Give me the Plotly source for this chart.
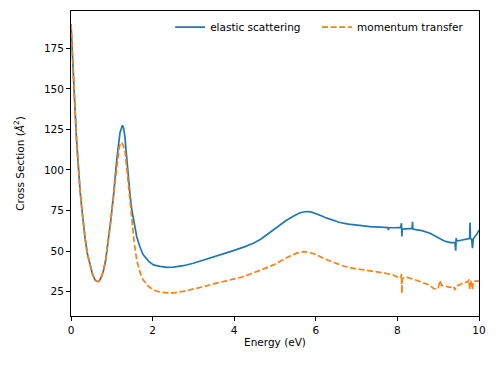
import plotly.graph_objects as go

# Elastic scattering cross section (blue, solid)
elastic_E = [0.0, 0.03, 0.056, 0.1, 0.14, 0.18, 0.22, 0.26, 0.30, 0.34, 0.40, 0.47, 0.53, 0.59, 0.63, 0.67, 0.71,
             0.75, 0.79, 0.85, 0.91, 0.97, 1.04, 1.12, 1.2, 1.23, 1.26, 1.29, 1.32, 1.36, 1.40, 1.45, 1.49, 1.55,
             1.61, 1.69, 1.77, 1.9, 2.02, 2.18, 2.35, 2.51, 2.75, 3.0, 3.25, 3.49, 3.75, 3.98, 4.25, 4.47, 4.65,
             4.8, 4.96, 5.12, 5.28, 5.45, 5.6, 5.69, 5.78, 5.9, 6.02, 6.15, 6.27, 6.43, 6.59, 6.8, 7.08, 7.33,
             7.57, 7.77, 7.78, 7.79, 7.95, 8.08, 8.10, 8.11, 8.12, 8.14, 8.2, 8.3, 8.36, 8.37, 8.38, 8.45, 8.6,
             8.8, 9.0, 9.15, 9.3, 9.41, 9.43, 9.44, 9.45, 9.5, 9.62, 9.72, 9.77, 9.78, 9.79, 9.82, 9.84, 9.86,
             9.9, 9.95, 10.0]
elastic_v = [190.0, 172.0, 162.0, 137.0, 117.0, 100.0, 88.0, 77.5, 67.5, 59.0, 48.5, 40.4, 35.5, 32.2, 31.4, 31.2,
             32.3, 34.4, 37.4, 44.5, 54.9, 68.0, 83.7, 106.0, 122.8, 126.0, 127.5, 125.8, 120.7, 109.0, 96.0,
             84.0, 75.5, 66.0, 59.0, 52.5, 47.7, 43.8, 41.5, 40.6, 40.0, 40.1, 41.0, 42.5, 44.4, 46.6, 48.4,
             50.3, 52.6, 54.9, 57.3, 60.0, 63.0, 66.2, 69.0, 71.5, 73.5, 74.1, 74.4, 74.0, 73.0, 71.6, 70.3,
             68.8, 67.6, 66.6, 65.6, 65.1, 64.8, 64.5, 63.0, 64.4, 64.4, 64.6, 67.2, 59.0, 63.5, 63.6, 63.8, 63.9,
             64.0, 68.0, 63.6, 63.2, 62.6, 61.0, 58.3, 56.2, 55.2, 55.4, 50.3, 58.0, 56.3, 56.4, 56.8, 57.5,
             57.8, 67.6, 57.6, 57.4, 51.8, 57.5, 59.0, 60.5, 63.0]

# Momentum transfer cross section (orange, dashed)
momentum_E = [0.0, 0.03, 0.056, 0.1, 0.14, 0.18, 0.22, 0.26, 0.30, 0.34, 0.40, 0.47, 0.53, 0.59, 0.63, 0.67, 0.71,
              0.75, 0.79, 0.85, 0.91, 0.97, 1.04, 1.12, 1.18, 1.21, 1.24, 1.27, 1.32, 1.36, 1.40, 1.45, 1.49, 1.55,
              1.61, 1.69, 1.77, 1.9, 2.02, 2.18, 2.35, 2.51, 2.75, 3.0, 3.25, 3.49, 3.75, 3.98, 4.25, 4.47, 4.7,
              4.96, 5.15, 5.37, 5.55, 5.69, 5.85, 6.02, 6.2, 6.43, 6.65, 6.92, 7.2, 7.49, 7.7, 7.9, 8.06, 8.09,
              8.10, 8.11, 8.12, 8.15, 8.23, 8.4, 8.64, 8.8, 8.88, 8.96, 9.0, 9.04, 9.08, 9.17, 9.29, 9.38, 9.41,
              9.44, 9.5, 9.62, 9.72, 9.76, 9.77, 9.78, 9.8, 9.84, 9.86, 9.9, 10.0]
momentum_v = [190.0, 172.0, 162.0, 137.0, 117.0, 100.0, 88.0, 77.5, 67.5, 59.0, 48.5, 40.4, 35.5, 32.2, 31.4,
              31.2, 32.3, 34.4, 37.4, 44.5, 54.9, 68.0, 83.7, 103.0, 113.5, 116.3, 117.0, 115.8, 112.0, 103.0,
              92.0, 78.5, 67.0, 55.0, 44.6, 37.0, 32.2, 28.2, 26.0, 24.8, 24.3, 24.2, 25.2, 26.5, 28.1, 29.8,
              31.2, 32.7, 34.4, 36.4, 38.8, 41.5, 44.2, 47.0, 48.9, 49.7, 49.2, 47.7, 45.4, 42.9, 41.0, 39.4,
              38.3, 37.4, 36.4, 35.3, 33.3, 34.0, 35.9, 24.0, 33.0, 33.5, 33.9, 32.6, 30.6, 29.0, 27.1, 26.5,
              27.0, 31.8, 29.0, 28.5, 27.7, 28.3, 26.0, 28.5, 29.0, 30.6, 31.0, 32.5, 26.0, 31.5, 31.5, 26.5,
              31.3, 31.5, 31.5]

x_ticks = [0, 2, 4, 6, 8, 10]
y_ticks = [25, 50, 75, 100, 125, 150, 175]

font = dict(family="DejaVu Sans, sans-serif", size=10.5, color="black")

fig = go.Figure()
fig.add_trace(go.Scatter(x=elastic_E, y=elastic_v, mode="lines", name="elastic scattering",
                         line=dict(color="#1f77b4", width=1.7), legend="legend"))
fig.add_trace(go.Scatter(x=momentum_E, y=momentum_v, mode="lines", name="momentum transfer",
                         line=dict(color="#ff7f0e", width=1.7, dash="6px,2.6px"), legend="legend2"))

axis_common = dict(showline=True, mirror=True, linecolor="black", linewidth=0.9, ticks="outside",
                   ticklen=4, tickwidth=0.9, tickcolor="black", showgrid=False, zeroline=False,
                   tickfont=font)
fig.update_xaxes(range=[0, 10], tickvals=x_ticks, title=dict(text="Energy (eV)", font=font, standoff=4),
                 **axis_common)
fig.update_yaxes(range=[10, 198], tickvals=y_ticks,
                 title=dict(text="Cross Section (<i>Å</i><sup>2</sup>)", font=font, standoff=17),
                 **axis_common)

legend_common = dict(orientation="h", yanchor="top", y=0.995, xanchor="left",
                     bgcolor="rgba(0,0,0,0)", font=font, itemwidth=30)
fig.update_layout(
    template="none",
    width=498, height=374,
    margin=dict(l=71, r=19, t=11, b=58, pad=0),
    paper_bgcolor="white", plot_bgcolor="white",
    font=font,
    showlegend=True,
    legend=dict(x=0.243, **legend_common),
    legend2=dict(x=0.603, **legend_common),
)

fig.write_html("out.html", config={"displayModeBar": False})

with open("out.html", "r", encoding="utf-8") as f:
    html = f.read()
html = html.replace("<body>", '<body style="margin:0;padding:0;overflow:hidden">', 1)
with open("out.html", "w", encoding="utf-8") as f:
    f.write(html)
